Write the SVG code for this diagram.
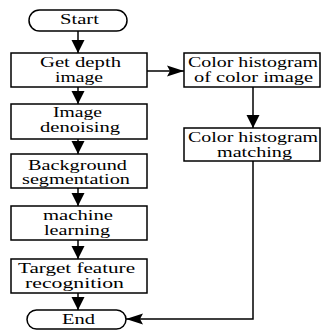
<svg xmlns="http://www.w3.org/2000/svg" width="322" height="331" viewBox="0 0 322 331">
  <style>
    .box { fill: #ffffff; stroke: #000000; stroke-width: 1.5; }
    .edge { fill: none; stroke: #000000; stroke-width: 1.5; }
    .lbl { font-family: 'Liberation Serif', 'Times New Roman', 'DejaVu Serif', serif; font-size: 14px; fill: #000000; text-anchor: middle; }
  </style>
  <defs>
    <marker id="arrowDown" markerUnits="userSpaceOnUse" markerWidth="14" markerHeight="14" viewBox="0 -7 13 14" refX="13" refY="0" orient="auto">
      <path d="M0,-6.5 L13,0 L0,6.5 Z" fill="#000000"/>
    </marker>
    <marker id="arrowSide" markerUnits="userSpaceOnUse" markerWidth="18" markerHeight="12" viewBox="0 -6 17 12" refX="17" refY="0" orient="auto">
      <path d="M0,-5.5 L17,0 L0,5.5 L3,0 Z" fill="#000000"/>
    </marker>
  </defs>

  <rect width="322" height="331" fill="#ffffff"/>

  <g id="connectors">
    <line class="edge" x1="78" y1="31" x2="78" y2="53" marker-end="url(#arrowDown)"/>
    <line class="edge" x1="78" y1="87" x2="78" y2="104" marker-end="url(#arrowDown)"/>
    <line class="edge" x1="78" y1="139" x2="78" y2="154" marker-end="url(#arrowDown)"/>
    <line class="edge" x1="78" y1="188" x2="78" y2="206" marker-end="url(#arrowDown)"/>
    <line class="edge" x1="78" y1="240" x2="78" y2="259" marker-end="url(#arrowDown)"/>
    <line class="edge" x1="78" y1="293" x2="78" y2="310" marker-end="url(#arrowDown)"/>
    <line class="edge" x1="147" y1="71" x2="184" y2="71" marker-end="url(#arrowSide)"/>
    <line class="edge" x1="253" y1="87" x2="253" y2="128" marker-end="url(#arrowDown)"/>
    <polyline class="edge" points="253,161 253,319 126,319" stroke-width="2" marker-end="url(#arrowSide)"/>
  </g>

  <g id="start">
    <rect class="box" x="29" y="10" width="98" height="21" rx="10.5" ry="10.5"/>
    <text class="lbl" font-family="Liberation Serif, serif" x="79.5" y="24" textLength="39" lengthAdjust="spacingAndGlyphs">Start</text>
  </g>

  <g id="get-depth">
    <rect class="box" x="11" y="53" width="136" height="34"/>
    <text class="lbl" font-family="Liberation Serif, serif" x="80.5" y="67" textLength="81" lengthAdjust="spacingAndGlyphs">Get depth</text>
    <text class="lbl" font-family="Liberation Serif, serif" x="79" y="82" textLength="48" lengthAdjust="spacingAndGlyphs">image</text>
  </g>

  <g id="denoising">
    <rect class="box" x="11" y="104" width="136" height="35"/>
    <text class="lbl" font-family="Liberation Serif, serif" x="77.5" y="117" textLength="49" lengthAdjust="spacingAndGlyphs">Image</text>
    <text class="lbl" font-family="Liberation Serif, serif" x="80" y="132" textLength="80" lengthAdjust="spacingAndGlyphs">denoising</text>
  </g>

  <g id="segmentation">
    <rect class="box" x="11" y="154" width="136" height="34"/>
    <text class="lbl" font-family="Liberation Serif, serif" x="77.5" y="169.5" textLength="99" lengthAdjust="spacingAndGlyphs">Background</text>
    <text class="lbl" font-family="Liberation Serif, serif" x="76" y="184" textLength="108" lengthAdjust="spacingAndGlyphs">segmentation</text>
  </g>

  <g id="learning">
    <rect class="box" x="11" y="206" width="136" height="34"/>
    <text class="lbl" font-family="Liberation Serif, serif" x="78" y="220" textLength="70" lengthAdjust="spacingAndGlyphs">machine</text>
    <text class="lbl" font-family="Liberation Serif, serif" x="77" y="234.5" textLength="66" lengthAdjust="spacingAndGlyphs">learning</text>
  </g>

  <g id="recognition">
    <rect class="box" x="11" y="259" width="136" height="34"/>
    <text class="lbl" font-family="Liberation Serif, serif" x="76.5" y="273" textLength="117" lengthAdjust="spacingAndGlyphs">Target feature</text>
    <text class="lbl" font-family="Liberation Serif, serif" x="74.5" y="287.5" textLength="99" lengthAdjust="spacingAndGlyphs">recognition</text>
  </g>

  <g id="end">
    <rect class="box" x="27" y="310" width="99" height="19" rx="9.5" ry="9.5"/>
    <text class="lbl" font-family="Liberation Serif, serif" x="78.5" y="324" textLength="33" lengthAdjust="spacingAndGlyphs">End</text>
  </g>

  <g id="color-histogram">
    <rect class="box" x="184" y="53" width="136" height="34"/>
    <text class="lbl" font-family="Liberation Serif, serif" x="253" y="67" textLength="130" lengthAdjust="spacingAndGlyphs">Color histogram</text>
    <text class="lbl" font-family="Liberation Serif, serif" x="253.5" y="81.5" textLength="119" lengthAdjust="spacingAndGlyphs">of color image</text>
  </g>

  <g id="histogram-matching">
    <rect class="box" x="184" y="128" width="136" height="33"/>
    <text class="lbl" font-family="Liberation Serif, serif" x="253" y="142" textLength="130" lengthAdjust="spacingAndGlyphs">Color histogram</text>
    <text class="lbl" font-family="Liberation Serif, serif" x="254.5" y="156.5" textLength="75" lengthAdjust="spacingAndGlyphs">matching</text>
  </g>
</svg>
